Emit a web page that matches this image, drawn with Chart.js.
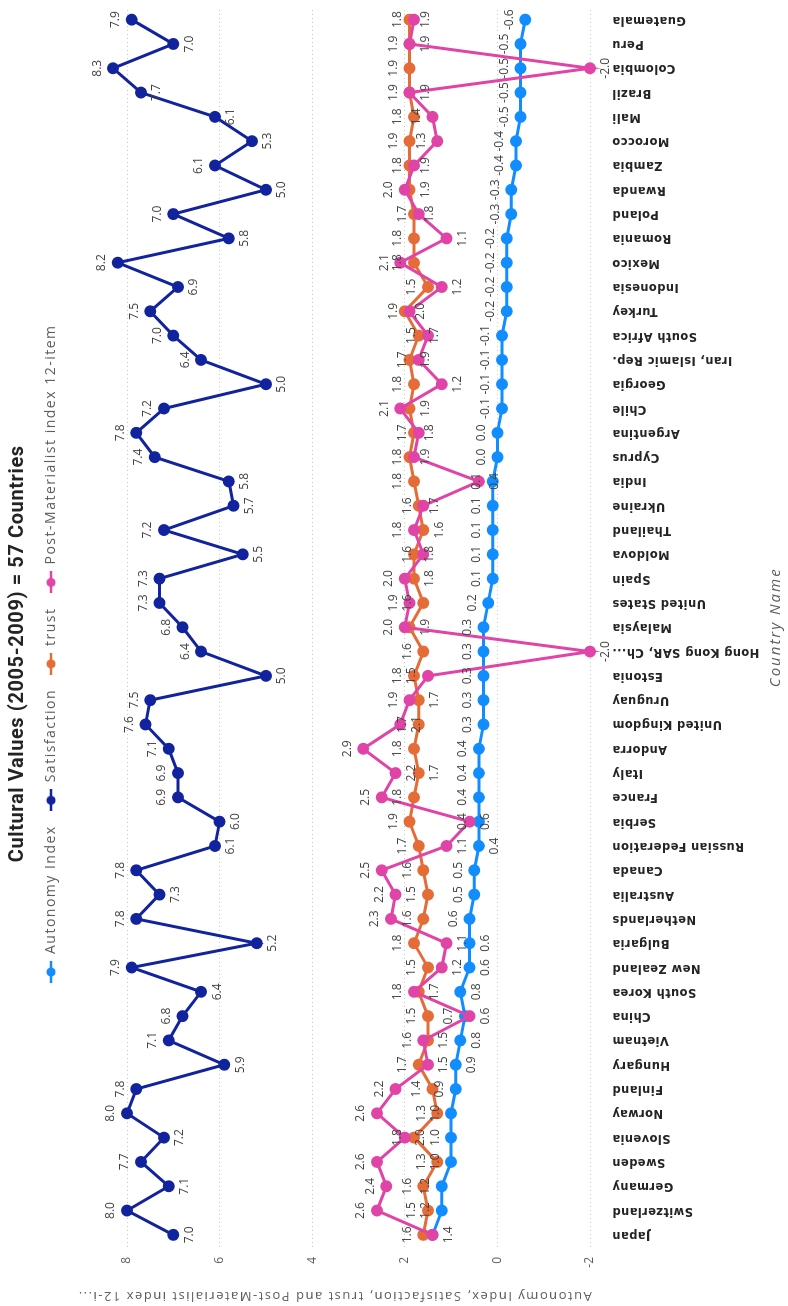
<!DOCTYPE html>
<html>
<head>
<meta charset="utf-8">
<script src="https://cdn.jsdelivr.net/npm/chart.js@4.4.1/dist/chart.umd.min.js"></script>
<style>
html,body{margin:0;padding:0;background:#fff;width:788px;height:1306px;overflow:hidden;}
#wrap{position:absolute;left:0;top:0;width:1306px;height:788px;transform-origin:0 0;transform:translate(0,1306px) rotate(-90deg);}
canvas{display:block;}
</style>
</head>
<body>
<div id="wrap"><canvas id="c" width="1306" height="788"></canvas></div>
<script>
// ---- data ----
const countries = ["Japan","Switzerland","Germany","Sweden","Slovenia","Norway","Finland","Hungary","Vietnam","China","South Korea","New Zealand","Bulgaria","Netherlands","Australia","Canada","Russian Federation","Serbia","France","Italy","Andorra","United Kingdom","Uruguay","Estonia","Hong Kong SAR, China","Malaysia","United States","Spain","Moldova","Thailand","Ukraine","India","Cyprus","Argentina","Chile","Georgia","Iran, Islamic Rep.","South Africa","Turkey","Indonesia","Mexico","Romania","Poland","Rwanda","Zambia","Morocco","Mali","Brazil","Colombia","Peru","Guatemala"];
const autonomyIndex = [1.4,1.2,1.2,1.0,1.0,1.0,0.9,0.9,0.8,0.7,0.8,0.6,0.6,0.6,0.5,0.5,0.4,0.4,0.4,0.4,0.4,0.3,0.3,0.3,0.3,0.3,0.2,0.1,0.1,0.1,0.1,0.1,0.0,0.0,-0.1,-0.1,-0.1,-0.1,-0.2,-0.2,-0.2,-0.2,-0.3,-0.3,-0.4,-0.4,-0.5,-0.5,-0.5,-0.5,-0.6];
const satisfaction = [7.0,8.0,7.1,7.7,7.2,8.0,7.8,5.9,7.1,6.8,6.4,7.9,5.2,7.8,7.3,7.8,6.1,6.0,6.9,6.9,7.1,7.6,7.5,5.0,6.4,6.8,7.3,7.3,5.5,7.2,5.7,5.8,7.4,7.8,7.2,5.0,6.4,7.0,7.5,6.9,8.2,5.8,7.0,5.0,6.1,5.3,6.1,7.7,8.3,7.0,7.9];
const trust = [1.6,1.5,1.6,1.3,1.8,1.3,1.4,1.7,1.5,1.5,1.7,1.5,1.8,1.6,1.5,1.6,1.7,1.9,1.8,1.7,1.8,1.7,1.7,1.8,1.6,1.9,1.6,1.8,1.8,1.6,1.7,1.8,1.9,1.8,1.9,1.8,1.9,1.7,2.0,1.5,1.8,1.8,1.8,1.9,1.9,1.9,1.8,1.9,1.9,1.9,1.9];
const postMaterialist = [1.4,2.6,2.4,2.6,2.0,2.6,2.2,1.5,1.6,0.6,1.8,1.2,1.1,2.3,2.2,2.5,1.1,0.6,2.5,2.2,2.9,2.1,1.9,1.5,-2.0,2.0,1.9,2.0,1.6,1.8,1.6,0.4,1.8,1.7,2.1,1.2,1.7,1.5,1.9,1.2,2.1,1.1,1.7,2.0,1.8,1.3,1.4,1.9,-2.0,1.9,1.8];
const valueTicks = [-2,0,2,4,6,8];
const seriesNames = ["Autonomy Index","Satisfaction","trust","Post-Materialist index 12-item"];
const seriesColors = ["#118DFF","#12239E","#E66C37","#E044A7"];

// ---- helpers ----
function legendMarker(color){
  const c=document.createElement('canvas'); c.width=22; c.height=12;
  const g=c.getContext('2d');
  g.strokeStyle=color; g.lineWidth=2.5; g.beginPath(); g.moveTo(0,6); g.lineTo(22,6); g.stroke();
  g.fillStyle=color; g.beginPath(); g.arc(11,6,4.5,0,Math.PI*2); g.fill();
  return c;
}
const markers = seriesColors.map(legendMarker);

function spaced(obj, method, spacing, ctxOf){
  if(!obj || obj['_sp_'+method]) return;
  const orig = obj[method];
  obj[method] = function(...args){
    const c = ctxOf(); c.save(); c.letterSpacing = spacing;
    const r = orig.apply(this,args); c.restore(); return r;
  };
  obj['_sp_'+method] = true;
}
const textSpacing = {
  id:'textSpacing',
  beforeLayout(chart){
    const cx=()=>chart.ctx;
    spaced(chart.titleBlock,'draw','0.6px',cx);
    spaced(chart.legend,'fit','1.5px',cx);
    spaced(chart.legend,'draw','1.5px',cx);
    spaced(chart.scales.x,'drawLabels','0.4px',cx);
    spaced(chart.scales.x,'drawTitle','2px',cx);
    spaced(chart.scales.y,'drawTitle','1.5px',cx);
  }
};

const valueLabels = {
  id:'valueLabels',
  afterDatasetsDraw(chart){
    const ctx=chart.ctx;
    ctx.save();
    ctx.font='12px "Open Sans", sans-serif';
    ctx.fillStyle='#444';
    ctx.textAlign='center';
    ctx.textBaseline='middle';
    const placed=[];
    const overlaps=(r)=>placed.some(p=>r.x<p.x+p.w-1&&r.x+r.w>p.x+1&&r.y<p.y+p.h-1&&r.y+r.h>p.y+1);
    const order=[1,3,2,0];
    order.forEach(di=>{
      const meta=chart.getDatasetMeta(di);
      const data=chart.data.datasets[di].data;
      meta.data.forEach((pt,i)=>{
        const v=data[i]; const prev=data[i-1], next=data[i+1];
        const dp=prev!==undefined?prev-v:0, dn=next!==undefined?next-v:0;
        const below=dp>0.6||dn>0.6||(dp>=0.45&&dn>=0.45);
        const txt=v.toFixed(1);
        const w=ctx.measureText(txt).width, h=12, off=16;
        const cands = below ? [pt.y+off, pt.y-off] : [pt.y-off, pt.y+off];
        for(const cy of cands){
          const r={x:pt.x-w/2,y:cy-h/2,w:w,h:h};
          if(!overlaps(r)){ placed.push(r); ctx.fillText(txt,pt.x,cy); break; }
        }
      });
    });
    ctx.restore();
  }
};

const axisFit = {
  id:'axisFit',
  afterLayout(chart){
    const s=chart.scales.y, a=chart.chartArea;
    const p8=127, pm2=590, ppu=(pm2-p8)/10;
    s.max = 8 + (p8-a.top)/ppu;
    s.min = -2 - (a.bottom-pm2)/ppu;
    s.configure();
  }
};

const datasets = [autonomyIndex,satisfaction,trust,postMaterialist].map((d,i)=>({
  label:seriesNames[i], data:d,
  borderColor:seriesColors[i], backgroundColor:seriesColors[i],
  pointBackgroundColor:seriesColors[i], pointBorderColor:seriesColors[i],
  borderWidth:3, pointRadius:4.5, pointHoverRadius:4.5, tension:0, clip:false,
  order: 4-i
}));

Chart.defaults.font.family='"Open Sans", sans-serif';
new Chart(document.getElementById('c'),{
  type:'line',
  data:{labels:countries,datasets:datasets},
  options:{
    responsive:false, animation:false, events:[],
    layout:{padding:{left:0,right:1.5,top:0,bottom:0}},
    plugins:{
      title:{display:true,text:'Cultural Values (2005-2009) = 57 Countries',color:'#252423',
        font:{size:20,weight:'bold',family:'Roboto, sans-serif'},padding:{top:6,bottom:0}},
      legend:{display:true,position:'top',
        labels:{usePointStyle:true,pointStyleWidth:22,boxHeight:12,color:'#605E5C',padding:14,
          font:{size:14},
          sort:(a,b)=>a.datasetIndex-b.datasetIndex,
          generateLabels(chart){
            const items=Chart.defaults.plugins.legend.labels.generateLabels(chart);
            items.forEach(it=>{it.pointStyle=markers[it.datasetIndex];});
            return items;
          }}},
      tooltip:{enabled:false}
    },
    scales:{
      x:{type:'category',offset:true,
        grid:{display:false},border:{display:false},
        ticks:{autoSkip:false,minRotation:90,maxRotation:90,padding:3,color:'#252423',
          font:{size:11.5,weight:'bold',family:'"DejaVu Sans", sans-serif'},
          callback(v){const s=this.getLabelForValue(v);return s.length>18?s.slice(0,17)+'...':s;}},
        title:{display:true,text:'Country Name',color:'#605E5C',font:{size:15,style:'italic'},padding:{top:4,bottom:3}},
        afterFit(s){s.height=187;}
      },
      y:{type:'linear',min:-2.25,max:8.75,
        afterBuildTicks(s){s.ticks=valueTicks.map(v=>({value:v}));},
        grid:{color:'#C8C8C8',drawTicks:false,lineWidth:1},
        border:{display:false,dash:[1,3]},
        ticks:{padding:10,color:'#605E5C',font:{size:12}},
        title:{display:true,text:'Autonomy Index, Satisfaction, trust and Post-Materialist index 12-i...',color:'#605E5C',font:{size:13},padding:{top:2,bottom:4}},
        afterFit(s){s.width=59;}
      }
    }
  },
  plugins:[textSpacing,axisFit,valueLabels]
});
</script>
</body>
</html>
